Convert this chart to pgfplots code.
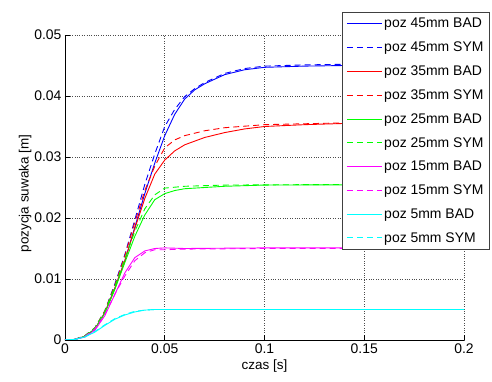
\documentclass[border=0pt]{standalone}
\usepackage{pgfplots}
\pgfplotsset{compat=1.18}
\usepackage{fontspec}
\setmainfont{Liberation Sans}
\definecolor{mblue}{RGB}{0,0,255}
\definecolor{mred}{RGB}{255,0,0}
\definecolor{mgreen}{RGB}{0,255,0}
\definecolor{mmag}{RGB}{255,0,255}
\definecolor{mcyan}{RGB}{0,255,255}
\begin{document}
\begin{tikzpicture}
\useasboundingbox (-65bp,-42bp) rectangle (427bp,340bp);
\begin{axis}[
  at={(0,0)}, anchor=south west,
  scale only axis, width=399bp, height=305bp,
  xmin=0, xmax=0.2, ymin=0, ymax=0.05,
  xtick={0,0.05,0.1,0.15,0.2},
  ytick={0,0.01,0.02,0.03,0.04,0.05},
  xticklabels={0,0.05,0.1,0.15,0.2},
  yticklabels={0,0.01,0.02,0.03,0.04,0.05},
  scaled ticks=false,
  axis x line=bottom, axis y line=left,
  axis line style={-, black, line width=0.7bp},
  tick align=inside, major tick length=5bp,
  tick style={black, line width=0.6bp},
  grid=major,
  major grid style={black!70, dotted, line width=0.6bp},
  ticklabel style={font=\fontsize{14}{14}\selectfont},
  /pgf/number format/assume math mode=true,
  xlabel={czas [s]}, ylabel={pozycja suwaka [m]},
  label style={font=\fontsize{13.5}{14}\selectfont},
  xlabel style={at={(axis description cs:0.5,0)}, anchor=north, yshift=-16bp},
  ylabel style={at={(axis description cs:0,0.5)}, anchor=south, xshift=-6bp, yshift=30bp},
  legend style={at={(277bp,328bp)}, anchor=north west, draw=black!75, line width=0.7bp,
    font=\fontsize{14}{14}\selectfont, cells={anchor=west}, row sep=8.6bp,
    inner xsep=4bp, inner ysep=4bp, fill=white},
  legend image code/.code={\draw[#1] plot coordinates {(0bp,0bp) (17bp,0bp) (35bp,0bp)};},
]
% 45 mm
\addplot[draw=mblue, line width=0.9bp] coordinates {(0,0) (0.005,0.0001) (0.01,0.0006) (0.015,0.0018) (0.02,0.0045) (0.025,0.0085) (0.03,0.013) (0.035,0.0185) (0.04,0.024) (0.045,0.029) (0.05,0.0335) (0.055,0.037) (0.06,0.0395) (0.065,0.041) (0.07,0.042) (0.08,0.0435) (0.09,0.0443) (0.1,0.0447) (0.12,0.0449) (0.14,0.045) (0.2,0.045)};
\addlegendentry{poz 45mm BAD}
\addplot[draw=mblue, line width=0.9bp, dash pattern=on 6bp off 4bp] coordinates {(0,0) (0.005,0.0001) (0.01,0.0007) (0.015,0.002) (0.02,0.0048) (0.025,0.0092) (0.03,0.014) (0.035,0.0197) (0.04,0.0255) (0.045,0.0305) (0.05,0.035) (0.055,0.0378) (0.06,0.0399) (0.065,0.0412) (0.07,0.0422) (0.08,0.0437) (0.09,0.0445) (0.1,0.0449) (0.12,0.0451) (0.14,0.0452) (0.2,0.0452)};
\addlegendentry{poz 45mm SYM}
% 35 mm
\addplot[draw=mred, line width=0.9bp] coordinates {(0,0) (0.005,0.0001) (0.01,0.0006) (0.015,0.0018) (0.02,0.0045) (0.025,0.0085) (0.03,0.013) (0.035,0.0183) (0.04,0.0232) (0.045,0.0272) (0.05,0.0295) (0.055,0.031) (0.06,0.032) (0.07,0.0332) (0.08,0.034) (0.09,0.0346) (0.1,0.035) (0.12,0.0353) (0.14,0.0355) (0.2,0.0355)};
\addlegendentry{poz 35mm BAD}
\addplot[draw=mred, line width=0.9bp, dash pattern=on 6bp off 4bp] coordinates {(0,0) (0.005,0.0001) (0.01,0.0007) (0.015,0.002) (0.02,0.0048) (0.025,0.009) (0.03,0.0138) (0.035,0.0193) (0.04,0.0245) (0.045,0.0285) (0.05,0.0315) (0.055,0.0328) (0.06,0.0335) (0.07,0.0343) (0.08,0.0348) (0.1,0.0353) (0.14,0.0356) (0.2,0.0357)};
\addlegendentry{poz 35mm SYM}
% 25 mm
\addplot[draw=mgreen, line width=0.9bp] coordinates {(0,0) (0.005,0.0001) (0.01,0.0006) (0.015,0.0018) (0.02,0.0044) (0.025,0.0083) (0.03,0.0127) (0.035,0.017) (0.04,0.0205) (0.045,0.023) (0.05,0.024) (0.055,0.0245) (0.06,0.0248) (0.08,0.0252) (0.1,0.0254) (0.2,0.0255)};
\addlegendentry{poz 25mm BAD}
\addplot[draw=mgreen, line width=0.9bp, dash pattern=on 6bp off 4bp] coordinates {(0,0) (0.005,0.0001) (0.01,0.0007) (0.015,0.002) (0.02,0.0047) (0.025,0.0088) (0.03,0.0133) (0.035,0.0178) (0.04,0.0215) (0.045,0.0238) (0.05,0.0249) (0.06,0.0252) (0.08,0.0254) (0.2,0.0256)};
\addlegendentry{poz 25mm SYM}
% 15 mm
\addplot[draw=mmag, line width=0.9bp] coordinates {(0,0) (0.005,0.0001) (0.01,0.0005) (0.015,0.0016) (0.02,0.004) (0.025,0.0075) (0.03,0.011) (0.035,0.0135) (0.04,0.0146) (0.045,0.015) (0.05,0.0151) (0.06,0.015) (0.1,0.0151) (0.2,0.0151)};
\addlegendentry{poz 15mm BAD}
\addplot[draw=mmag, line width=0.9bp, dash pattern=on 6bp off 4bp] coordinates {(0,0) (0.005,0.0001) (0.01,0.0006) (0.015,0.0018) (0.02,0.0042) (0.025,0.0075) (0.03,0.0105) (0.035,0.013) (0.04,0.0143) (0.045,0.0148) (0.05,0.0148) (0.06,0.0149) (0.1,0.015) (0.2,0.015)};
\addlegendentry{poz 15mm SYM}
% 5 mm
\addplot[draw=mcyan, line width=0.9bp] coordinates {(0,0) (0.005,0.0001) (0.01,0.0005) (0.015,0.0013) (0.02,0.0024) (0.025,0.0034) (0.03,0.0041) (0.035,0.0046) (0.04,0.0049) (0.045,0.005) (0.05,0.005) (0.1,0.005) (0.2,0.005)};
\addlegendentry{poz 5mm BAD}
\addplot[draw=mcyan, line width=0.9bp, dash pattern=on 6bp off 4bp] coordinates {(0,0) (0.005,0.0001) (0.01,0.0005) (0.015,0.0014) (0.02,0.0025) (0.025,0.0035) (0.03,0.0042) (0.035,0.0047) (0.04,0.0049) (0.045,0.005) (0.05,0.005) (0.1,0.005) (0.2,0.005)};
\addlegendentry{poz 5mm SYM}
\end{axis}
\end{tikzpicture}
\end{document}
